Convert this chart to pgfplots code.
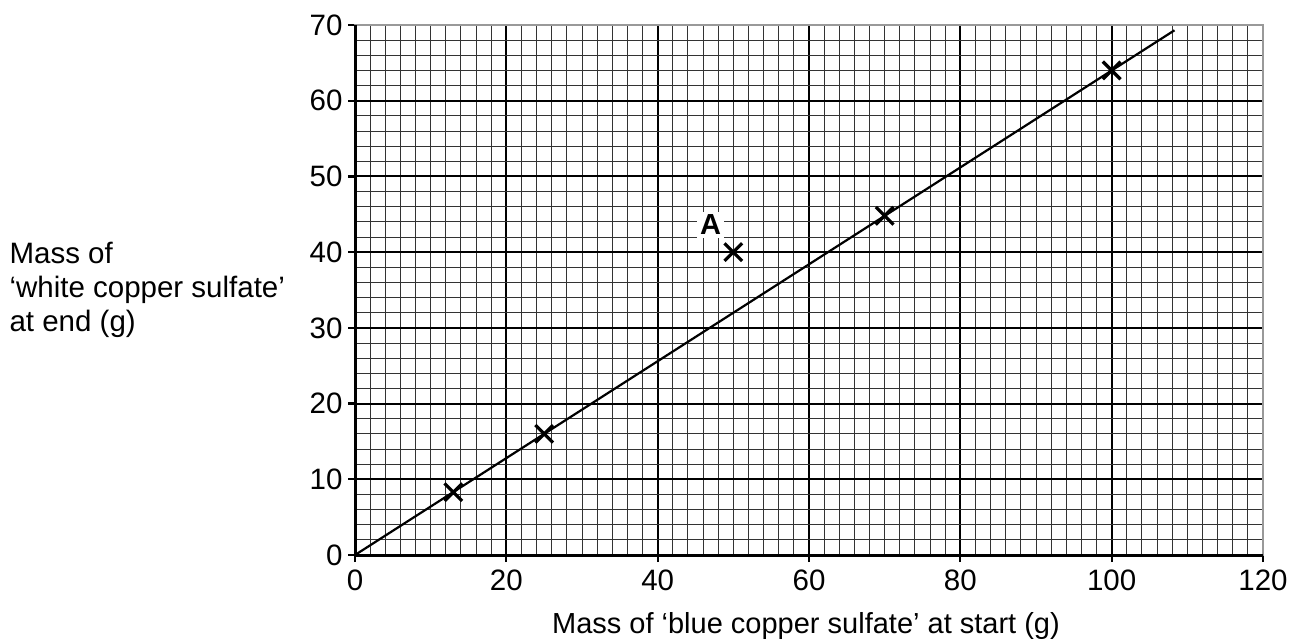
\documentclass[border=0pt]{standalone}
\usepackage{pgfplots}
\pgfplotsset{compat=1.18}
\usepackage{fontspec}
\setmainfont{Liberation Sans}

\begin{document}
\begin{tikzpicture}
\path[use as bounding box] (-355pt,-88pt) rectangle (934pt,555pt);
\begin{axis}[
  at={(0,0)}, anchor=south west,
  scale only axis,
  width=908pt, height=530pt,
  xmin=0, xmax=120, ymin=0, ymax=70,
  xtick={0,20,...,120}, ytick={0,10,...,70},
  minor x tick num=9, minor y tick num=4,
  grid=both,
  major grid style={black, line width=2pt},
  minor grid style={black!80, line width=0.9pt},
  axis line style={black!45, line width=1.5pt},
  tick pos=left, tick align=outside,
  major tick length=7pt, minor tick length=0pt,
  tick style={black, line width=2.2pt},
  ticklabel style={font=\fontsize{29.5}{34}\selectfont},
  /pgf/number format/assume math mode=true,
  xticklabel style={yshift=-4pt},
  yticklabel style={xshift=-2pt},
  clip=false,
]
\addplot[black, line width=2.2pt, no marks] coordinates {(0,0) (108.3,69.3)};
\addplot[only marks, mark=x, mark size=12.5pt, mark options={line width=3.2pt, black}]
  coordinates {(13,8.3) (25,16) (50,40) (70,44.8) (100,64)};
\draw[black!40, line width=2pt] (rel axis cs:0,1) -- (rel axis cs:1,1) -- (rel axis cs:1,0);
\draw[black, line width=3pt] (rel axis cs:0,1) -- (rel axis cs:0,0) -- (rel axis cs:1,0);
\node[fill=white, inner sep=3pt, font=\fontsize{29}{34}\selectfont\bfseries] at (axis cs:47,43.6) {A};
\node[anchor=center, font=\fontsize{29}{34}\selectfont] at (axis cs:59.6,-9.4) {Mass of ‘blue copper sulfate’ at start (g)};
\end{axis}
\node[anchor=west, align=left, font=\fontsize{29.5}{34}\selectfont] at (-349pt,265pt)
  {Mass of\\‘white copper sulfate’\\at end (g)};
\end{tikzpicture}
\end{document}
